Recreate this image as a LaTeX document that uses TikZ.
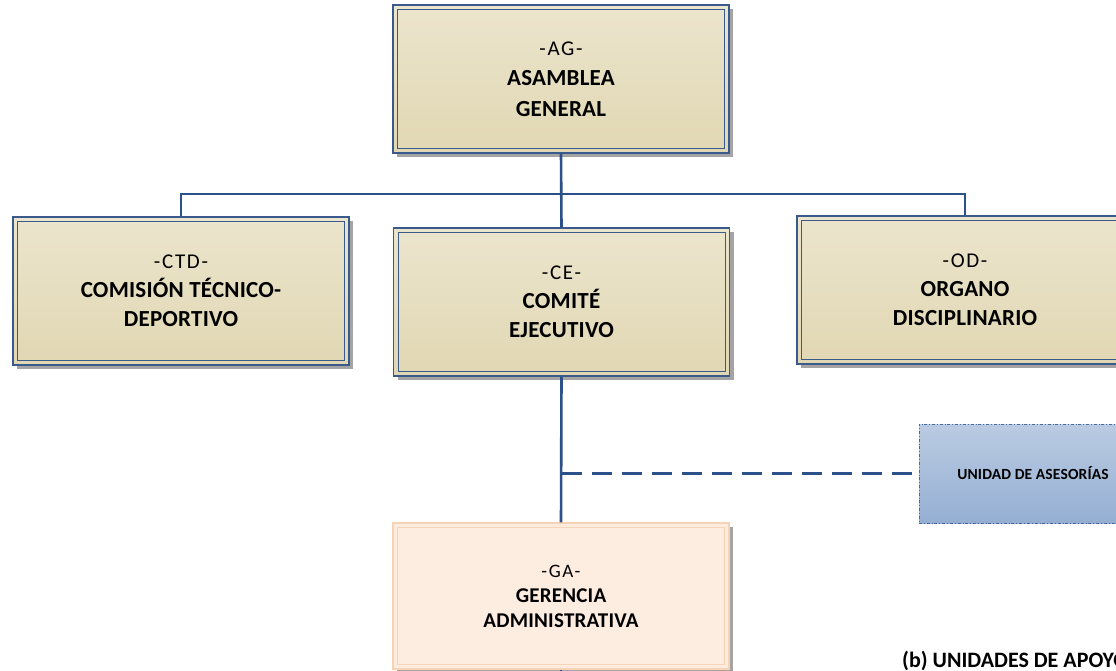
\documentclass[tikz,border=0pt]{standalone}
\usepackage{fontspec}
\setmainfont{Carlito}
\newfontfamily\boxfont{Carlito}[LetterSpace=1]
\newfontfamily\hdfont{Carlito}[LetterSpace=8]
\usetikzlibrary{shadows}
\definecolor{tantop}{HTML}{EBE5CD}
\definecolor{tanbot}{HTML}{E1D7B3}
\definecolor{bordblue}{HTML}{3B5A8C}
\definecolor{linkblue}{HTML}{2C5089}
\definecolor{shadowgray}{HTML}{A4A4A4}
\definecolor{peachfill}{HTML}{FDEDE1}
\definecolor{peachline}{HTML}{F8D2B4}
\definecolor{bluetop}{HTML}{BACBE2}
\definecolor{bluebot}{HTML}{95AFD3}
\definecolor{dashblue}{HTML}{4A6A9A}
\newcommand{\hdline}[2]{{\hdfont\mdseries\fontsize{#1}{29}\selectfont #2}}
\begin{document}
\begin{tikzpicture}[x=1pt,y=1pt,
  orgbox/.style={rectangle, draw=bordblue, line width=1.1pt, top color=tantop, bottom color=tanbot,
    minimum width=336pt, minimum height=148pt, inner sep=0pt, align=center,
    font=\boxfont\fontsize{23}{29}\selectfont\bfseries,
    drop shadow={shadow xshift=4pt, shadow yshift=-4pt, fill=shadowgray, opacity=1}},
  gabox/.style={rectangle, draw=peachline, line width=1.1pt, fill=peachfill,
    minimum width=336pt, minimum height=146pt, inner sep=0pt, align=center,
    font=\boxfont\fontsize{21}{25}\selectfont\bfseries,
    drop shadow={shadow xshift=4pt, shadow yshift=-4pt, fill=shadowgray, opacity=1}},
  advbox/.style={rectangle, draw=dashblue, line width=0.7pt, dash dot, top color=bluetop, bottom color=bluebot,
    minimum width=228pt, minimum height=99pt, inner sep=0pt, align=center,
    font=\boxfont\fontsize{15.5}{18}\selectfont\bfseries},
  innerline/.style={draw=bordblue, line width=0.8pt},
  gainner/.style={draw=peachline, line width=0.8pt},
  conn/.style={draw=linkblue, line width=2.6pt},
  dconn/.style={draw=linkblue, line width=2.6pt, dash pattern=on 20pt off 10pt},
  capt/.style={font=\fontsize{22}{26}\selectfont\bfseries, inner sep=0pt, anchor=base west}
]
\useasboundingbox (0,0) rectangle (1116,670);
\clip (0,0) rectangle (1116,670);

\node[orgbox, font=\boxfont\fontsize{23}{30.5}\selectfont\bfseries] (ag) at (561,591) {\hdline{21}{-AG-}\\ASAMBLEA\\GENERAL};
\node[orgbox] (ctd) at (181,379) {\hdline{21}{-CTD-}\\COMISIÓN TÉCNICO-\\DEPORTIVO};
\node[orgbox] (ce) at (561.5,368) {\hdline{21}{-CE-}\\COMITÉ\\EJECUTIVO};
\node[orgbox] (od) at (965,380) {\hdline{21}{-OD-}\\ORGANO\\DISCIPLINARIO};
\node[gabox] (ga) at (561,74) {\hdline{19}{-GA-}\\GERENCIA\\ADMINISTRATIVA};
\node[advbox] (asr) at (1033,196.5) {UNIDAD DE ASESORÍAS};

\foreach \n in {ag,ctd,ce,od}{
  \draw[innerline] ([shift={(5,5)}]\n.south west) rectangle ([shift={(-5,-5)}]\n.north east);
}
\draw[gainner] ([shift={(5,5)}]ga.south west) rectangle ([shift={(-5,-5)}]ga.north east);

\coordinate (bar) at (561.5,476);
\coordinate (gatail) at (561,-30);
\draw[conn] (ctd.north) -- (ctd.north |- bar) -- (od.north |- bar) -- (od.north);
\draw[conn] (ag.south) -- (ce.north);
\draw[dconn] (ce.south |- asr.west) -- (asr.west);
\draw[conn] (ce.south) -- (ga.north);
\draw[conn] (ga.south) -- (gatail);

\node[capt] (cap) at (902,3) {(b) UNIDADES DE APOYO};
\end{tikzpicture}
\end{document}
